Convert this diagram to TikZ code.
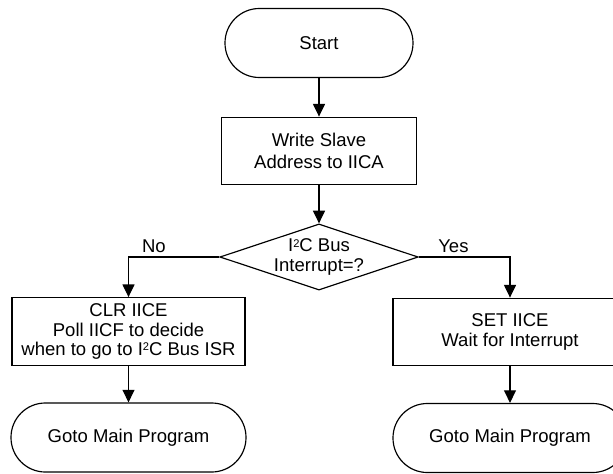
\documentclass[tikz,border=0pt]{standalone}
\usepackage{fontspec}
\setmainfont{Liberation Sans}
\usepackage{tikz}
\usetikzlibrary{arrows.meta,positioning,shapes.geometric}
\newcommand{\IIC}{I{\fontsize{9.5}{9.5}\selectfont\raisebox{0.75ex}{2}}C}

\begin{document}
\begin{tikzpicture}[x=0.03cm, y=-0.03cm,
    font=\fontsize{15.8}{16.5}\selectfont,
    line width=1pt,
    flow/.style={-{Triangle[length=0.38cm, width=0.36cm]}},
    terminal/.style={draw, rectangle, rounded corners=1.03cm, minimum width=#1*0.03cm, minimum height=2.07cm, inner sep=2pt},
    procbox/.style={draw, rectangle, align=center, minimum width=#1*0.03cm, minimum height=2.03cm, inner sep=2pt},
    decision/.style={draw, diamond, aspect=3, align=center, inner sep=0pt, minimum width=5.85cm, minimum height=1.95cm}]

% fixed page (right column is cut off by the page edge)
\useasboundingbox (0,0) rectangle (613,474);
\clip (0,0) rectangle (613,474);

% ==========================================
% Main column
% ==========================================
\node[terminal=188] (start) at (319,43) {Start};
\node[procbox=195, font=\fontsize{15.8}{19.3}\selectfont] (write) at (319,151) {Write Slave\\Address to IICA};
\node[decision] (decide) at (319,257) {\IIC{} Bus\\Interrupt=?};

% ==========================================
% Left branch: No
% ==========================================
\node[procbox=233] (clr) at (128.5,331.5) {CLR IICE\\Poll IICF to decide\\when to go to \IIC{} Bus ISR};
\node[terminal=235] (gotoL) at (128.5,437.5) {Goto Main Program};

% ==========================================
% Right branch: Yes
% ==========================================
\node[procbox=234, font=\fontsize{15.8}{17.6}\selectfont] (set) at (510,332) {SET IICE\\Wait for Interrupt};
\node[terminal=234] (gotoR) at (510,438) {Goto Main Program};

% Connectors
\draw[flow] (start) -- (write);
\draw[flow] (write) -- (decide);
\draw[flow] (decide.west) -| node[pos=0.36, above, inner sep=3pt] {No} (clr.north);
\draw[flow] (decide.east) -| node[pos=0.19, above, inner sep=3pt] {Yes} (set.north);
\draw[flow] (clr) -- (gotoL);
\draw[flow] (set) -- (gotoR);

\end{tikzpicture}
\end{document}
